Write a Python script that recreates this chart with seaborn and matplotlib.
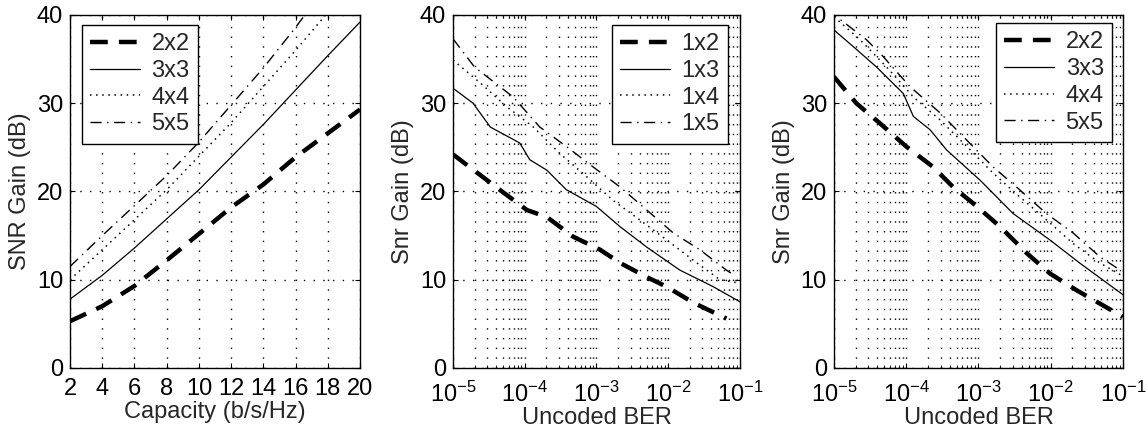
import numpy as np
import pandas as pd
import seaborn as sns
import matplotlib.pyplot as plt
from matplotlib.ticker import LogLocator, FixedLocator

sns.set_style("ticks")
plt.rcParams['font.family'] = ['Liberation Sans', 'DejaVu Sans']
plt.rcParams['mathtext.fontset'] = 'custom'
plt.rcParams['mathtext.rm'] = 'Liberation Sans'
plt.rcParams['mathtext.it'] = 'Liberation Sans'
plt.rcParams['font.size'] = 16

# panel 1: SNR gain vs capacity
capacity = [2, 4, 6, 8, 10, 12, 14, 16, 18, 20]
gain_2x2 = [5.3, 7.0, 9.3, 12.2, 15.2, 18.2, 20.8, 23.9, 26.6, 29.3]
gain_3x3 = [7.8, 10.5, 13.6, 16.9, 20.2, 23.9, 27.6, 31.5, 35.4, 39.2]
gain_4x4 = [10.0, 13.4, 16.8, 20.2, 24.0, 27.8, 31.9, 36.0, 40.3, 44.5]
gain_5x5 = [11.5, 15.0, 18.4, 21.8, 25.6, 29.8, 34.0, 38.6, 43.5, 48.0]

# panel 2: SIMO, x as log10(BER)
ber_1x2 = [-5.0, -4.35, -3.97, -3.69, -3.33, -2.95, -2.67, -2.3, -2.02, -1.65, -1.19]
snr_1x2 = [24.2, 20.2, 17.9, 17.1, 14.9, 13.4, 11.9, 10.3, 9.2, 7.4, 5.6]
ber_1x3 = [-5.0, -4.72, -4.48, -4.07, -3.93, -3.69, -3.42, -3.0, -2.67, -2.3, -1.84, -1.37, -1.0]
snr_1x3 = [31.7, 30.0, 27.3, 25.5, 23.6, 22.4, 20.2, 18.3, 16.0, 13.7, 11.1, 9.2, 7.5]
ber_1x4 = [-5.0, -4.62, -4.25, -3.88, -3.51, -3.14, -2.77, -2.4, -2.02, -1.65, -1.28, -1.0]
snr_1x4 = [34.9, 32.3, 29.6, 27.3, 24.3, 21.7, 19.0, 16.8, 14.5, 12.2, 10.0, 9.6]
ber_1x5 = [-5.0, -4.7, -4.16, -3.79, -3.42, -3.05, -2.67, -2.3, -1.93, -1.56, -1.19, -1.08]
snr_1x5 = [37.3, 34.1, 30.7, 27.3, 25.1, 22.8, 20.5, 17.9, 15.3, 13.4, 11.1, 10.5]

# panel 3: MIMO, x as log10(BER)
ber_m = [-5.0, -4.69, -4.36, -4.0, -3.63, -3.35, -3.02, -2.7, -2.33, -2.01, -1.64, -1.0]
snr_m2 = [33.0, 30.0, 27.7, 25.1, 22.8, 20.5, 18.3, 16.0, 13.0, 10.7, 8.8, 5.8]
ber_m3 = [-5.0, -4.73, -4.41, -4.04, -3.9, -3.67, -3.44, -2.98, -2.52, -2.01, -1.6, -1.0]
snr_m3 = [38.3, 36.4, 34.1, 31.1, 28.5, 27.0, 24.7, 21.3, 17.5, 14.5, 11.9, 8.3]
ber_m4 = [-5.0, -4.64, -4.27, -3.9, -3.53, -3.16, -2.8, -2.43, -2.06, -1.69, -1.32, -1.0]
snr_m4 = [39.8, 37.2, 34.1, 30.7, 28.1, 25.1, 22.1, 19.4, 16.8, 14.1, 11.9, 10.4]
ber_m5 = [-5.1, -4.9, -4.55, -4.32, -3.95, -3.53, -3.16, -2.8, -2.43, -2.06, -1.69, -1.32, -1.04]
snr_m5 = [40.5, 39.4, 37.2, 35.3, 31.9, 28.9, 25.8, 22.8, 20.2, 17.5, 15.3, 12.6, 11.1]

styles = [
    dict(linestyle=(0, (4, 2.5)), linewidth=3.2),
    dict(linestyle='-', linewidth=0.9),
    dict(linestyle=(0, (1, 3)), linewidth=1.1),
    dict(linestyle=(0, (8, 4, 1, 4)), linewidth=1.0),
]

fig = plt.figure(figsize=(11.46, 4.36), dpi=100)
ax1 = fig.add_axes([0.0611, 0.156, 0.2531, 0.8096])
ax2 = fig.add_axes([0.3953, 0.156, 0.2504, 0.8096])
ax3 = fig.add_axes([0.7277, 0.156, 0.2522, 0.8096])

grid_kw = dict(color='black', linestyle=(0, (1, 6)), linewidth=1.0)
leg_kw = dict(fancybox=False, edgecolor='black', framealpha=1, fontsize=17,
              handlelength=2.1, borderpad=0.35, labelspacing=0.2,
              handletextpad=0.5, borderaxespad=0)

# panel 1
for yv, lab, st in zip([gain_2x2, gain_3x3, gain_4x4, gain_5x5],
                       ['2x2', '3x3', '4x4', '5x5'], styles):
    sns.lineplot(x=capacity, y=yv, ax=ax1, color='black', label=lab, **st)
ax1.set_xlim(2, 20)
ax1.set_ylim(0, 40)
ax1.set_xticks(range(2, 21, 2))
ax1.set_yticks([0, 10, 20, 30, 40])
ax1.grid(True, **grid_kw)
ax1.set_xlabel('Capacity (b/s/Hz)', fontsize=17, labelpad=1)
ax1.set_ylabel('SNR Gain (dB)', fontsize=17, labelpad=4)
ax1.legend(loc='upper left', bbox_to_anchor=(0.041, 0.972), **leg_kw)
ax1.tick_params(axis='x', which='major', pad=7)

def log_panel(ax, series, labels, anchor):
    for (xv, yv), lab, st in zip(series, labels, styles):
        sns.lineplot(x=10.0 ** np.array(xv), y=yv, ax=ax, color='black',
                     label=lab, **st)
    ax.set_xscale('log')
    ax.set_xlim(1e-5, 1e-1)
    ax.set_ylim(0, 40)
    ax.xaxis.set_major_locator(FixedLocator([1e-5, 1e-4, 1e-3, 1e-2, 1e-1]))
    ax.xaxis.set_minor_locator(LogLocator(base=10, subs=np.arange(2, 10), numticks=20))
    ax.set_yticks([0, 10, 20, 30, 40])
    ax.grid(True, which='major', **grid_kw)
    ax.grid(True, which='minor', axis='x', **grid_kw)
    ax.set_xlabel('Uncoded BER', fontsize=17, labelpad=0)
    ax.set_ylabel('Snr Gain (dB)', fontsize=17, labelpad=4)
    ax.legend(loc='upper right', bbox_to_anchor=anchor, **leg_kw)
    ax.tick_params(axis='x', which='major', pad=10)

log_panel(ax2, [(ber_1x2, snr_1x2), (ber_1x3, snr_1x3), (ber_1x4, snr_1x4), (ber_1x5, snr_1x5)],
          ['1x2', '1x3', '1x4', '1x5'], (0.958, 0.972))
log_panel(ax3, [(ber_m, snr_m2), (ber_m3, snr_m3), (ber_m4, snr_m4), (ber_m5, snr_m5)],
          ['2x2', '3x3', '4x4', '5x5'], (0.962, 0.977))

for ax in (ax1, ax2, ax3):
    ax.tick_params(which='both', direction='in', top=True, right=True,
                   labelsize=17, colors='black')
    ax.tick_params(axis='y', which='major', pad=5)
    ax.tick_params(which='minor', length=2.5)
    for s in ax.spines.values():
        s.set_color('black')
        s.set_linewidth(1.0)
    ax.set_facecolor('white')
    ax.legend_.get_frame().set_linewidth(1.0)

fig.savefig('out.png', dpi=100, facecolor='white')
